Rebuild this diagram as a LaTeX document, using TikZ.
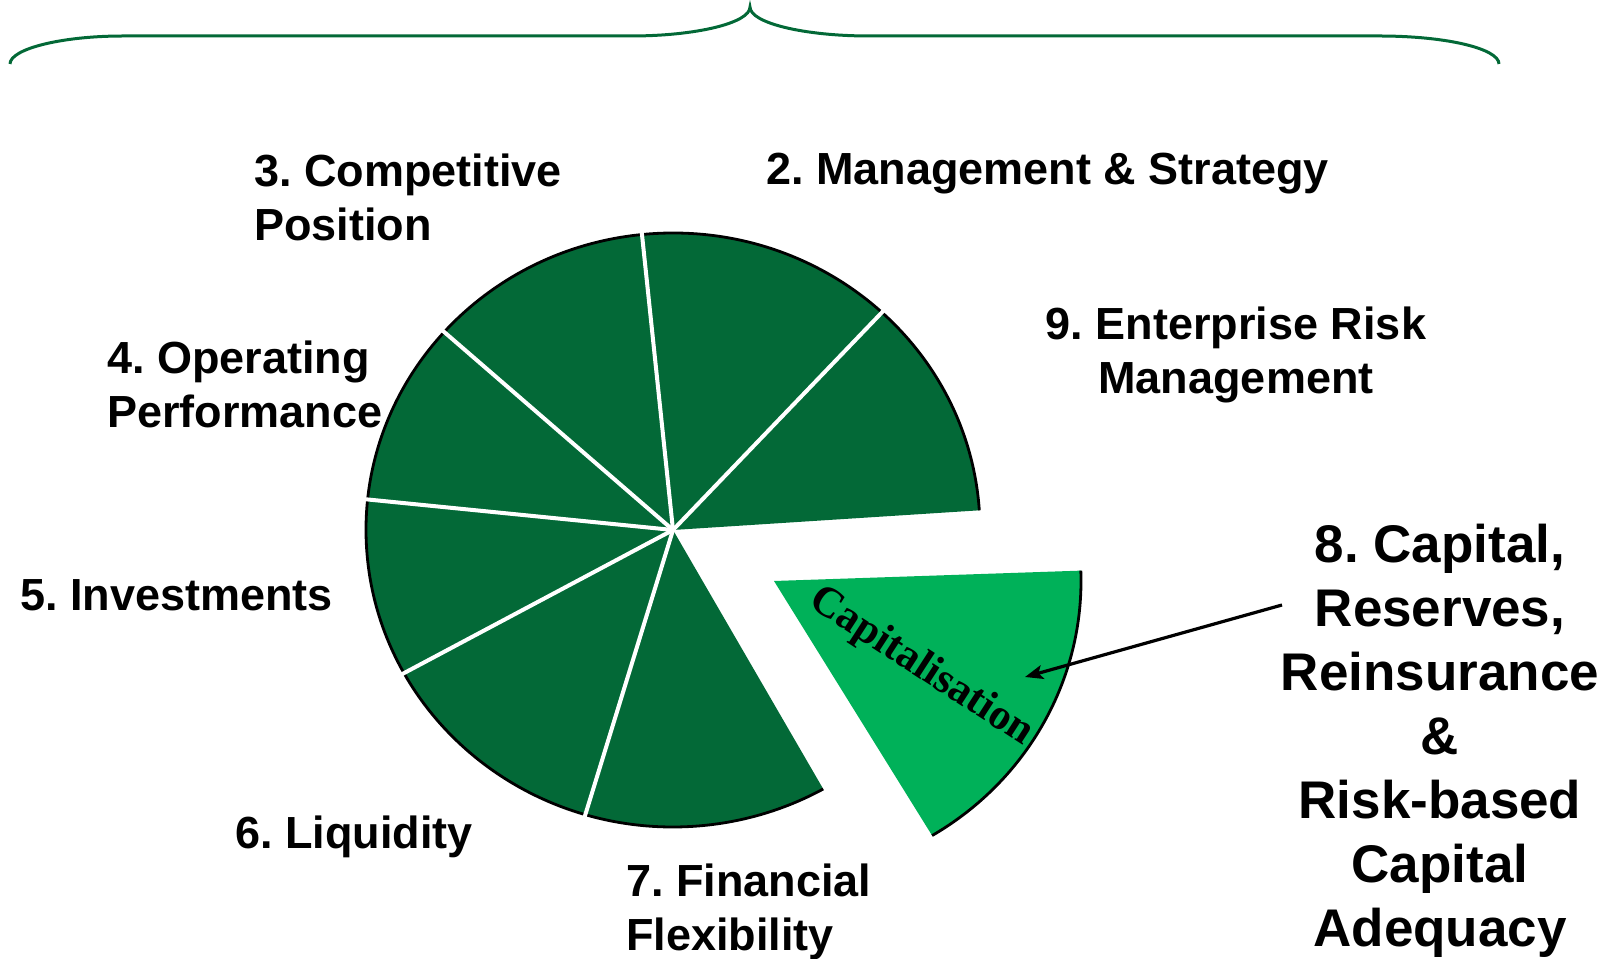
\documentclass[tikz,border=0pt]{standalone}
\usepackage{fontspec}
\setmainfont{Liberation Sans}
\newfontfamily\capserif{Liberation Serif}
\usetikzlibrary{arrows.meta}

\definecolor{pieDark}{RGB}{3,105,55}
\definecolor{pieLight}{RGB}{0,177,89}

\begin{document}
\begin{tikzpicture}[
  x=0.5pt, y=0.5pt,
  lbl/.style={font=\fontsize{22.5}{27}\selectfont\bfseries\frenchspacing, inner sep=0pt, align=left},
  biglbl/.style={font=\fontsize{26.5}{32}\selectfont\bfseries\frenchspacing, inner sep=0pt, align=center},
  slice/.style={fill=pieDark},
  spoke/.style={white, line width=2pt},
  rim/.style={black, line width=1.4pt},
  brace/.style={pieDark, line width=1.5pt},
  pointer/.style={-{Stealth[length=9pt, width=7pt, inset=2pt]}, line width=1.6pt},
]
\useasboundingbox (0,0) rectangle (1608,959);
% ---- brace over the whole picture ----
\draw[brace] (10,895) .. controls (10,910) and (61,923) .. (123,923) -- (631,923)
  .. controls (696,923) and (750,936) .. (750,952)
  .. controls (750,936) and (804,923) .. (869,923) -- (1379,923)
  .. controls (1448,923) and (1499,910) .. (1499,895);
% ---- pie: seven slices around the gap ----
\begin{scope}[shift={(673,429)}]
  \coordinate (c) at (0,0);
  \foreach \a/\b in {3.8/47.1, 47.1/95.8, 95.8/138.2, 138.2/174.1,
                     174.1/208.8, 208.8/253.4, 253.4/299.3}
    \fill[slice] (c) -- (\a:307 and 297)
      arc[start angle=\a, end angle=\b, x radius=307, y radius=297] -- cycle;
  \draw[rim] (3.8:307 and 297)
    arc[start angle=3.8, end angle=299.3, x radius=307, y radius=297];
  \foreach \a in {47.1, 95.8, 138.2, 174.1, 208.8, 253.4}
    \draw[spoke] (c) -- (\a:311 and 301);
\end{scope}
% ---- pulled-out slice ----
\begin{scope}[shift={(774,378)}]
  \coordinate (apex) at (0,0);
  \fill[pieLight] (apex) -- (-59:307 and 297)
    arc[start angle=-59, end angle=2, x radius=307, y radius=297] -- cycle;
  \draw[rim] (-59:307 and 297)
    arc[start angle=-59, end angle=2, x radius=307, y radius=297];
\end{scope}
\node[rotate=-33, inner sep=0pt, font=\capserif\fontsize{21.5}{25}\selectfont\bfseries]
  (capn) at (921,292) {Capitalisation};
% ---- labels (multi-line ones sit on their last baseline) ----
\node[lbl, anchor=base west] (comp) at (254,718) {3. Competitive\\Position};
\node[lbl, anchor=base west] (mgmt) at (766,774) {2. Management \& Strategy};
\node[lbl, align=center, anchor=base] (erm) at (1236,565) {9. Enterprise Risk\\Management};
\node[lbl, anchor=base west] (oper) at (107,531) {4. Operating\\Performance};
\node[lbl, anchor=base west] (inv) at (20,348) {5. Investments};
\node[lbl, anchor=base west] (liq) at (235,110) {6. Liquidity};
\node[lbl, anchor=base west] (flex) at (626,8) {7. Financial\\Flexibility};
\node[biglbl, anchor=base] (capital) at (1440,12)
  {8. Capital,\\Reserves,\\Reinsurance\\\&\\Risk-based\\Capital\\Adequacy};
% ---- pointer into the pulled-out slice ----
\coordinate (from) at (1282,354);
\coordinate (tip) at (1025,282);
\draw[pointer] (from) -- (tip);
\end{tikzpicture}
\end{document}
